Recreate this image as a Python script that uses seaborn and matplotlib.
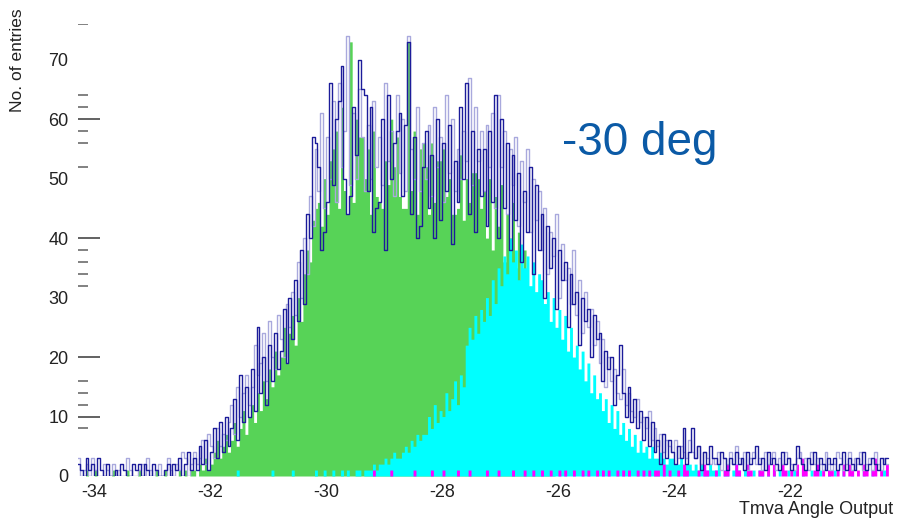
"""
ROOT-style overlay of TMVA angle output histograms (-30 deg sample).
Writes out.png.
"""
import matplotlib
matplotlib.use("Agg")
import matplotlib.pyplot as plt
import matplotlib.transforms as mtransforms
import numpy as np
import pandas as pd
import seaborn as sns

# bin grid shared by all histograms
X_START = -34.3
BIN_WIDTH = 0.05

# counts per 0.05 bin, one row per unit starting at -34.3
green_counts = (
    [0, 0, 0, 1, 0, 0, 1, 0, 0, 0, 0, 0, 1, 0, 0, 0, 0, 1, 0, 0]
    + [0, 1, 0, 0, 0, 0, 0, 1, 0, 0, 1, 0, 0, 0, 0, 1, 0, 1, 0, 1]
    + [1, 0, 2, 1, 3, 1, 2, 4, 6, 3, 5, 7, 4, 6, 9, 5, 8, 11, 7, 10]
    + [12, 9, 14, 11, 16, 13, 18, 15, 21, 17, 20, 25, 19, 24, 27, 22, 30, 26, 34, 38]
    + [36, 43, 45, 46, 42, 50, 44, 53, 55, 58, 45, 62, 48, 44, 73, 46, 60, 57, 57, 50]
    + [55, 44, 58, 47, 46, 45, 53, 49, 60, 52, 57, 47, 45, 45, 73, 48, 58, 44, 55, 56]
    + [52, 44, 56, 46, 53, 53, 55, 47, 50, 44, 44, 45, 54, 43, 50, 46, 51, 51, 50, 45]
    + [48, 40, 50, 38, 47, 42, 49, 36, 44, 40, 46, 35, 41, 33, 38, 28, 30, 20, 12, 5]
    + [2, 1, 1, 0, 1, 0, 0, 0, 0, 0, 0, 0, 0, 0, 0, 0, 0, 0, 0, 0]
    + [0] * 20 + [0] * 20 + [0] * 20 + [0] * 20 + [0] * 20
)

cyan_counts = (
    [0] * 20
    + [0] * 20
    + [0, 0, 0, 0, 0, 0, 0, 0, 0, 0, 0, 0, 0, 0, 0, 1, 0, 0, 0, 0]
    + [0, 0, 0, 0, 0, 0, 0, 1, 0, 0, 0, 0, 0, 0, 1, 0, 0, 0, 0, 0]
    + [0, 0, 1, 0, 0, 1, 0, 0, 1, 0, 0, 1, 0, 1, 0, 0, 1, 1, 0, 1]
    + [1, 1, 2, 1, 2, 2, 3, 2, 3, 4, 3, 3, 4, 5, 4, 6, 5, 7, 6, 7]
    + [7, 10, 8, 12, 9, 11, 10, 14, 11, 13, 16, 12, 17, 15, 22, 25, 23, 27, 24, 28]
    + [26, 30, 27, 33, 29, 35, 32, 37, 34, 40, 36, 38, 33, 39, 35, 37, 32, 36, 31, 34]
    + [33, 29, 31, 26, 30, 25, 28, 23, 27, 21, 25, 20, 22, 18, 21, 16, 19, 14, 17, 13]
    + [14, 11, 13, 9, 12, 8, 11, 7, 9, 6, 8, 5, 7, 4, 6, 4, 5, 3, 5, 3]
    + [3, 4, 3, 2, 3, 3, 2, 2, 3, 1, 2, 2, 1, 2, 1, 2, 1, 1, 2, 1]
    + [1, 2, 0, 1, 1, 0, 1, 2, 1, 0, 1, 1, 0, 1, 0, 1, 1, 0, 2, 0]
    + [1, 0, 1, 0, 0, 1, 0, 1, 0, 0, 1, 0, 0, 1, 0, 0, 1, 0, 0, 1]
    + [0, 1, 0, 0, 1, 0, 0, 1, 0, 0, 0, 1, 0, 0, 1, 0, 0, 0, 1, 0]
)

navy_counts = (
    [2, 1, 0, 3, 1, 2, 0, 3, 1, 0, 2, 0, 0, 1, 0, 2, 1, 0, 0, 2]
    + [1, 2, 0, 2, 1, 0, 2, 1, 0, 0, 1, 2, 0, 2, 1, 3, 0, 2, 4, 1]
    + [3, 1, 5, 2, 6, 1, 4, 8, 3, 9, 4, 10, 5, 8, 13, 6, 17, 9, 15, 10]
    + [18, 11, 25, 14, 20, 12, 22, 16, 24, 18, 21, 28, 19, 30, 23, 33, 26, 38, 29, 44]
    + [40, 57, 56, 52, 38, 41, 46, 66, 49, 60, 63, 69, 50, 44, 47, 62, 54, 70, 65, 64]
    + [48, 62, 41, 45, 46, 60, 38, 64, 50, 56, 58, 61, 47, 59, 73, 44, 57, 40, 42, 52]
    + [58, 45, 54, 40, 60, 43, 56, 48, 59, 39, 53, 46, 62, 50, 66, 44, 58, 41, 55, 47]
    + [55, 42, 58, 46, 64, 40, 60, 45, 56, 38, 54, 43, 51, 36, 48, 41, 52, 34, 49, 38]
    + [44, 30, 42, 35, 40, 28, 38, 33, 36, 25, 34, 29, 31, 22, 30, 26, 28, 20, 27, 23]
    + [24, 16, 21, 18, 20, 12, 17, 22, 14, 10, 15, 9, 13, 8, 11, 6, 10, 5, 9, 4]
    + [6, 2, 7, 3, 6, 4, 2, 5, 3, 8, 2, 4, 8, 3, 5, 1, 4, 2, 5, 3]
    + [3, 2, 4, 3, 1, 3, 2, 4, 2, 3, 1, 4, 2, 3, 5, 2, 3, 1, 4, 2]
    + [3, 2, 1, 4, 2, 3, 1, 2, 5, 3, 2, 1, 3, 2, 4, 1, 3, 2, 1, 3]
    + [2, 3, 1, 2, 4, 1, 3, 2, 1, 3, 2, 4, 1, 2, 3, 2, 1, 3, 2, 3]
)

lavender_counts = (
    [3, 0, 1, 2, 0, 3, 1, 0, 0, 2, 1, 0, 2, 0, 1, 0, 0, 3, 1, 0]
    + [0, 1, 2, 0, 3, 1, 0, 1, 2, 0, 0, 3, 1, 0, 2, 1, 4, 3, 0, 2]
    + [4, 2, 3, 6, 2, 7, 5, 3, 8, 5, 7, 6, 9, 12, 7, 15, 10, 14, 17, 12]
    + [15, 22, 17, 19, 24, 16, 26, 20, 18, 27, 23, 20, 29, 25, 31, 27, 36, 30, 40, 34]
    + [47, 42, 55, 48, 61, 45, 57, 50, 63, 46, 66, 52, 58, 74, 49, 61, 50, 65, 57, 48]
    + [59, 50, 63, 52, 57, 49, 66, 53, 58, 47, 64, 51, 60, 48, 74, 55, 50, 62, 48, 56]
    + [50, 59, 47, 62, 52, 57, 46, 64, 51, 60, 48, 55, 50, 58, 53, 67, 49, 62, 53, 58]
    + [48, 59, 52, 61, 45, 64, 52, 58, 44, 55, 49, 57, 42, 53, 46, 55, 41, 50, 43, 48]
    + [38, 45, 34, 41, 37, 44, 30, 39, 33, 35, 29, 38, 27, 33, 24, 31, 25, 28, 22, 26]
    + [19, 23, 15, 20, 16, 18, 14, 13, 18, 12, 14, 11, 10, 13, 9, 10, 8, 11, 6, 8]
    + [5, 7, 4, 6, 5, 4, 6, 3, 5, 4, 3, 6, 4, 3, 5, 2, 4, 3, 2, 3]
    + [2, 4, 1, 3, 2, 4, 2, 5, 3, 2, 4, 1, 3, 4, 2, 3, 1, 4, 2, 3]
    + [4, 1, 3, 2, 4, 3, 2, 1, 3, 4, 2, 3, 1, 4, 2, 3, 2, 1, 4, 2]
    + [1, 2, 4, 3, 1, 2, 4, 1, 3, 2, 4, 1, 2, 3, 1, 4, 2, 1, 3, 2]
)

magenta_counts = (
    [0] * 20 + [0] * 20 + [0] * 20 + [0] * 20 + [0] * 20
    + [0, 0, 1, 0, 0, 0, 0, 0, 1, 0, 0, 0, 0, 0, 0, 0, 1, 0, 0, 0]
    + [0, 0, 1, 0, 0, 0, 1, 0, 0, 0, 0, 1, 0, 0, 0, 1, 0, 0, 0, 0]
    + [0, 1, 0, 0, 0, 1, 0, 0, 0, 0, 1, 0, 0, 0, 1, 0, 0, 1, 0, 0]
    + [1, 0, 0, 1, 0, 0, 1, 0, 1, 0, 0, 1, 0, 0, 1, 0, 1, 0, 0, 1]
    + [0, 1, 0, 1, 0, 0, 1, 0, 1, 0, 1, 0, 0, 1, 0, 1, 0, 1, 0, 1]
    + [1, 0, 2, 0, 1, 0, 0, 1, 0, 2, 1, 0, 0, 0, 1, 0, 2, 1, 0, 0]
    + [1, 0, 0, 1, 2, 0, 0, 2, 1, 0, 0, 2, 1, 0, 0, 1, 1, 0, 2, 0]
    + [2, 0, 0, 2, 1, 0, 1, 0, 2, 0, 3, 1, 0, 0, 1, 2, 0, 1, 0, 1]
    + [1, 0, 1, 0, 2, 0, 2, 1, 0, 1, 0, 2, 1, 0, 1, 3, 0, 1, 0, 2]
)

x_ticks = [-34, -32, -30, -28, -26, -24, -22]
y_ticks = [0, 10, 20, 30, 40, 50, 60, 70]
# the visible y tick marks of the original axis
y_marks_long = [10, 20, 40, 60]
y_marks_short = [8, 12, 14, 16, 32, 34, 36, 38, 52, 56, 58, 62, 64, 76]

sns.set_style("white")
plt.rcParams["font.family"] = ["Liberation Sans", "DejaVu Sans"]

n_bins = len(navy_counts)
bin_lo = X_START
bin_hi = X_START + BIN_WIDTH * n_bins
df = pd.DataFrame({
    "center": bin_lo + BIN_WIDTH * (np.arange(n_bins) + 0.5),
    "green": green_counts,
    "cyan": cyan_counts,
    "navy": navy_counts,
    "lavender": lavender_counts,
    "magenta": magenta_counts,
})

fig = plt.figure(figsize=(8.97, 5.23), dpi=100)
ax = fig.add_axes([78 / 897, 47 / 523, 815 / 897, 452 / 523])

common = dict(data=df, x="center", bins=n_bins, binrange=(bin_lo, bin_hi),
              element="step", ax=ax)
sns.histplot(weights="green", fill=True, color="#57d357", alpha=1,
             linewidth=0, **common)
sns.histplot(weights="lavender", fill=False, color="#a9a9dd", linewidth=1.0,
             **common)
sns.histplot(weights="cyan", fill=True, color="#00ffff", alpha=1,
             linewidth=0, **common)
sns.histplot(weights="navy", fill=False, color="#1c1c9a", linewidth=1.0,
             **common)
sns.histplot(weights="magenta", fill=True, color="#ff00ff", alpha=1,
             linewidth=0, **common)

ax.set_xlim(-34.28, -20.22)
ax.set_ylim(0, 76)
ax.set_xticks(x_ticks)
ax.set_xticklabels([str(v) for v in x_ticks])
ax.set_yticks(y_ticks)
ax.set_yticklabels([str(v) for v in y_ticks])
ax.tick_params(axis="both", length=0, labelsize=13, colors="#222222")
ax.tick_params(axis="x", pad=6)
ax.tick_params(axis="y", pad=7)
ax.set_xlabel("")
ax.set_ylabel("")
sns.despine(ax=ax, left=True, bottom=True)

# ROOT-ish tick marks on the y axis (no axis line)
trans = mtransforms.blended_transform_factory(ax.transAxes, ax.transData)
ax.hlines(y_marks_long, 0, 22 / 815, transform=trans, color="#555555", lw=1.3)
ax.hlines(y_marks_short, 0, 10 / 815, transform=trans, color="#777777", lw=1.3)

fig.text(893 / 897, 1 - 510 / 523, "Tmva Angle Output", ha="right",
         va="center", fontsize=13, color="#222222")
fig.text(18 / 897, 1 - 8 / 523, "No. of entries", ha="center", va="top",
         rotation=90, fontsize=12.5, color="#222222")
fig.text(562 / 897, 1 - 143 / 523, "-30 deg", ha="left", va="center",
         fontsize=33, color="#0b5aa6")

fig.savefig("out.png", dpi=100)
